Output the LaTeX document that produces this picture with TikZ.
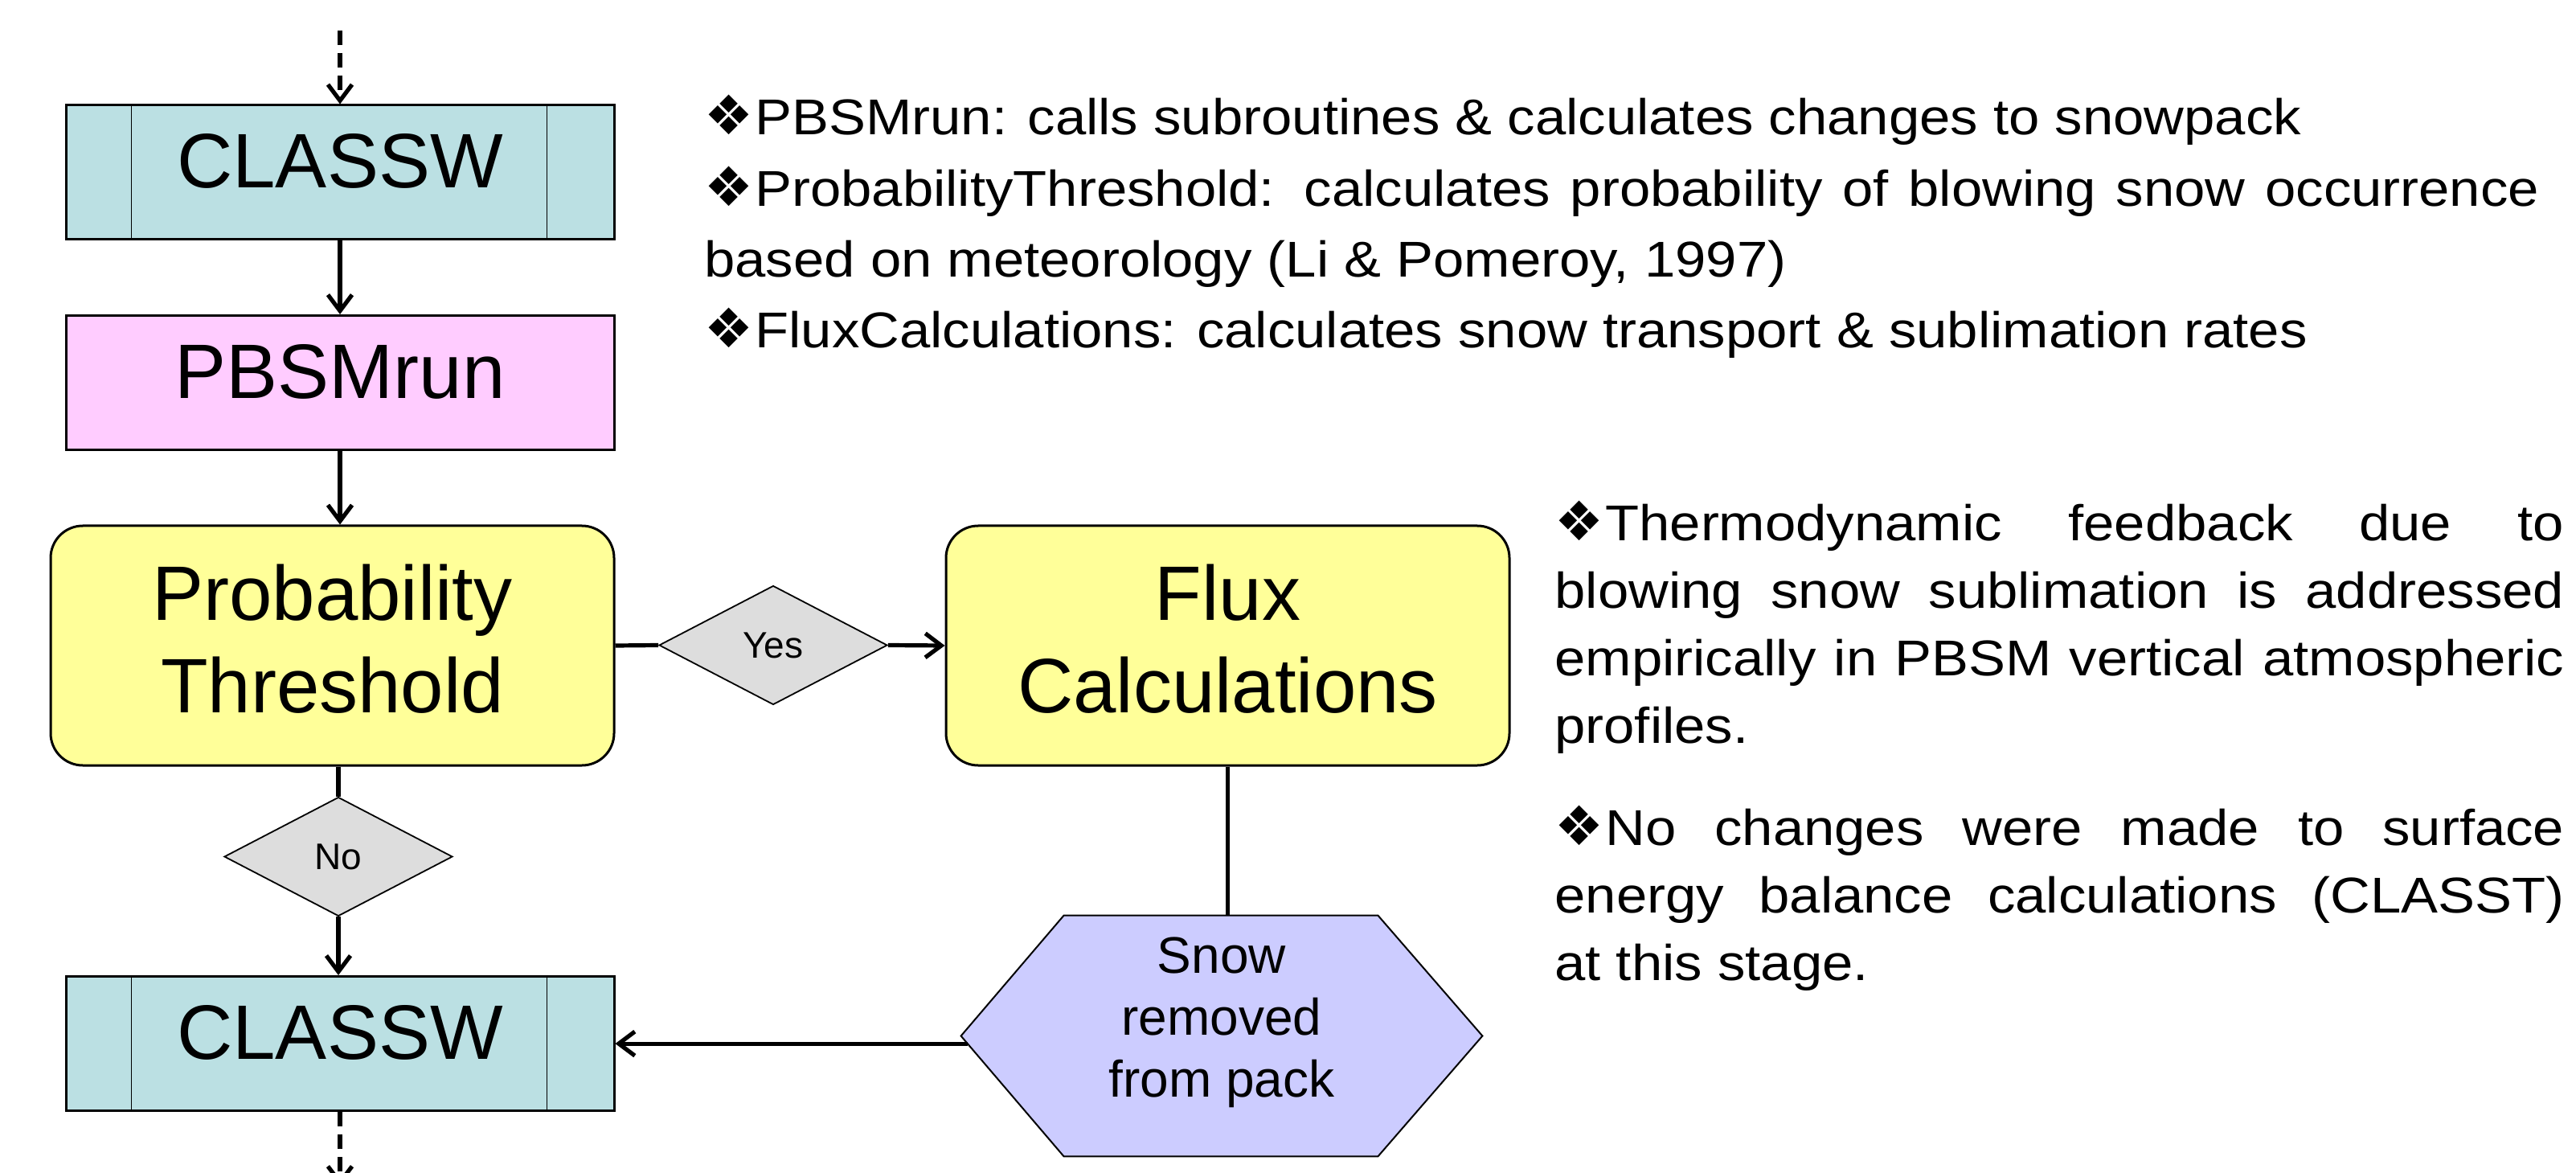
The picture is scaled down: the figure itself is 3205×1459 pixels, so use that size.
\documentclass[tikz,border=0pt]{standalone}
\usepackage{fontspec}
\setmainfont{Liberation Sans}
\newfontfamily\bodyfont[FakeStretch=1.1]{Liberation Sans}
\newfontfamily\symfont{DejaVu Sans}
\usetikzlibrary{arrows.meta,shapes.geometric,backgrounds,calc}
\definecolor{clswcol}{HTML}{BBE0E3}
\definecolor{pinkcol}{HTML}{FFCCFF}
\definecolor{yelcol}{HTML}{FFFF99}
\definecolor{dgraycol}{HTML}{DDDDDD}
\definecolor{hexcol}{HTML}{CCCCFF}
\newcommand{\mydep}[1]{\rule[-#1]{0pt}{#1}}
\newcommand{\bul}{{\symfont\fontsize{34pt}{34pt}\selectfont ❖}\hspace{1pt}}
\begin{document}
\begin{tikzpicture}[x=0.5pt,y=-0.5pt,
  box/.style={draw,line width=1.5pt,minimum width=341pt,minimum height=83.5pt,inner sep=0pt,
    font=\fontsize{48pt}{57.6pt}\selectfont},
  clsw/.style={box,fill=clswcol},
  rbox/.style={draw,line width=1.5pt,rounded corners=20pt,fill=yelcol,minimum width=350.5pt,
    minimum height=149pt,inner sep=0pt,align=center,font=\fontsize{48pt}{57.6pt}\selectfont},
  dec/.style={diamond,draw,fill=dgraycol,line width=0.9pt,minimum width=142pt,minimum height=74pt,
    inner sep=0pt,font=\fontsize{23pt}{27pt}\selectfont},
  sub/.style={line width=0.9pt},
  plain/.style={line width=2.6pt},
  conn/.style={line width=2.6pt,-{Straight Barb[length=10pt,width=15pt]}},
  dashconn/.style={conn,dash pattern=on 9pt off 5pt},
  para/.style={anchor=base west,inner sep=0pt,font=\bodyfont\fontsize{31.3pt}{44pt}\selectfont},
  parb/.style={anchor=base west,inner sep=0pt,font=\bodyfont\fontsize{31.3pt}{42pt}\selectfont}
]
\useasboundingbox (0,0) rectangle (3205,1459);

% boxes
\node[clsw] (c1) at (423,214.5) {CLASSW\mydep{14.5pt}};
\draw[sub] ($(c1.north west)+(83,0)$) -- ($(c1.south west)+(83,0)$);
\draw[sub] ($(c1.north east)+(-85,0)$) -- ($(c1.south east)+(-85,0)$);

\node[box,fill=pinkcol] (pbsm) at (423,476) {PBSMrun\mydep{14.5pt}};

\node[rbox] (prob) at (413.5,803) {Probability\\Threshold\mydep{8.5pt}};
\node[rbox] (flux) at (1527.5,803) {Flux\\Calculations\mydep{8.5pt}};

\node[dec] (yes) at (962,802.5) {Yes};
\node[dec] (no) at (421,1065.5) {No};

\node[clsw] (c2) at (423,1298) {CLASSW\mydep{14.5pt}};
\draw[sub] ($(c2.north west)+(83,0)$) -- ($(c2.south west)+(83,0)$);
\draw[sub] ($(c2.north east)+(-85,0)$) -- ($(c2.south east)+(-85,0)$);

\node[inner sep=0pt,minimum width=324pt,minimum height=149.5pt,align=center,
  font=\fontsize{32pt}{38.5pt}\selectfont] (snow) at (1520,1288.5)
  {Snow\\removed\\from pack\mydep{23pt}};
\begin{scope}[on background layer]
\filldraw[fill=hexcol,line width=1pt]
  (snow.west) -- ($(snow.north west)+(128,0)$) -- ($(snow.north east)+(-130,0)$)
  -- (snow.east) -- ($(snow.south east)+(-130,0)$) -- ($(snow.south west)+(128,0)$) -- cycle;
\end{scope}
\coordinate (hexleft) at ($(snow.west)!0.064!($(snow.south west)+(128,0)$)$);

% connectors
\coordinate (topin) at (423,38);
\coordinate (botout) at (423,1475);
\draw[dashconn] (topin) -- (c1.north);
\draw[conn] (c1.south) -- (pbsm.north);
\draw[conn] (pbsm.south) -- (pbsm.south |- prob.north);
\draw[plain] (prob.east) -- (yes.west);
\draw[conn] (yes.east) -- (flux.west);
\draw[plain] (no.north |- prob.south) -- (no.north);
\draw[conn] (no.south) -- (no.south |- c2.north);
\draw[plain] (flux.south) -- (flux.south |- snow.north);
\draw[conn] (hexleft) -- (hexleft -| c2.east);
\draw[dashconn] (c2.south) -- (botout);

% text
\node[para] (t1) at (876,168) {\parbox[t]{1141.5pt}{\bul PBSMrun: calls subroutines \& calculates changes to snowpack}};
\node[para] (t2) at (876,257) {\parbox[t]{1141.5pt}{\bul ProbabilityThreshold: calculates probability of blowing snow occurrence\linebreak based on meteorology (Li \& Pomeroy, 1997)}};
\node[para] (t3) at (876,433) {\parbox[t]{1141.5pt}{\bul FluxCalculations: calculates snow transport \& sublimation rates}};

\node[parb] (t4) at (1934,673) {\parbox[t]{628pt}{\bul Thermodynamic feedback due to\linebreak blowing snow sublimation is addressed\linebreak empirically in PBSM vertical atmospheric\linebreak profiles.}};
\node[parb] (t5) at (1934,1051) {\parbox[t]{628pt}{\bul No changes were made to surface\linebreak energy balance calculations (CLASST)\linebreak at this stage.}};
\end{tikzpicture}
\end{document}
